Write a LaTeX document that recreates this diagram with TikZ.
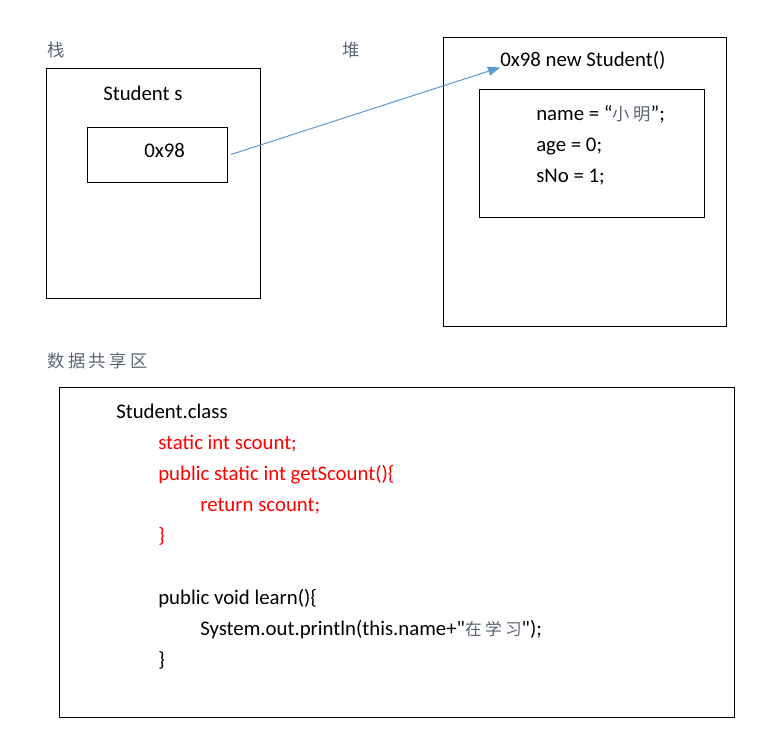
\documentclass[tikz,border=0pt]{standalone}
\usepackage{fontspec}
\setmainfont{Carlito}
\newfontfamily\cjk[LetterSpace=20]{Noto Sans CJK SC}
\newcommand\straightquote{\XeTeXglyph\XeTeXcharglyph"22\relax}
\usepackage{tikz}
\usetikzlibrary{arrows.meta,positioning}
\definecolor{refBlue}{HTML}{5B9BD5}
\definecolor{codeRed}{HTML}{FF0000}
\definecolor{cjkGray}{HTML}{5A6676}

\begin{document}
\begin{tikzpicture}[x=0.75pt, y=-0.75pt,
      frame/.style={rectangle, draw=black, line width=0.75pt, inner sep=0pt, outer sep=0pt, anchor=north west},
      txt/.style={anchor=base west, inner sep=0pt, font=\fontsize{15.6}{18}\selectfont},
      hot/.style={txt, text=codeRed},
      area/.style={anchor=base west, inner sep=0pt, text=cjkGray, font=\cjk\fontsize{13}{15}\selectfont},
      ref/.style={-{Triangle[length=9pt, width=7pt]}, draw=refBlue, line width=0.75pt}
    ]
      \useasboundingbox (0,0) rectangle (781,735);
      \node[area] (stackTitle) at (47,56) {栈};
      \node[area] (heapTitle) at (342,56) {堆};
      \node[area] (sharedTitle) at (47,367) {数据共享区};

      \node[frame, minimum width=160.5pt, minimum height=171.75pt] (stack) at (46,69) {};
      \node[txt] (var) at (103,100) {Student s};
      \node[frame, minimum width=105pt, minimum height=41.25pt] (ptr) at (87,127) {};
      \node[txt] (addr) at (144,157) {0x98};

      \node[frame, minimum width=212.25pt, minimum height=216pt] (heap) at (443,38) {};
      \node[txt] (head) at (500,67) {0x98 new Student()};
      \node[frame, minimum width=168.75pt, minimum height=96pt] (obj) at (479,89) {};
      \node[txt] (fname) at (536,120) {name = “{\cjk\fontsize{13}{15}\selectfont\color{cjkGray}小明}”;};
      \node[txt] (fage) at (536,151) {age = 0;};
      \node[txt] (fsno) at (536,182) {sNo = 1;};

      \draw[ref] ([xshift=3pt]ptr.east) -- ([yshift=-5pt]head.west);

      \node[frame, minimum width=506.25pt, minimum height=247.5pt] (shared) at (59,387) {};
      \node[txt] (cls) at (116,418) {Student.class};
      \node[hot] (sfield) at (158,449) {static int scount;};
      \node[hot] (smeth) at (158,480) {public static int getScount()\{};
      \node[hot] (sret) at (200,511) {return scount;};
      \node[hot] (send) at (158,542) {\}};
      \node[txt] (imeth) at (158,604) {public void learn()\{};
      \node[txt] (iprint) at (200,635) {System.out.println(this.name+\straightquote{\cjk\fontsize{12.5}{15}\selectfont\color{cjkGray}在学习}\straightquote);};
      \node[txt] (iend) at (158,666) {\}};
    \end{tikzpicture}
\end{document}
